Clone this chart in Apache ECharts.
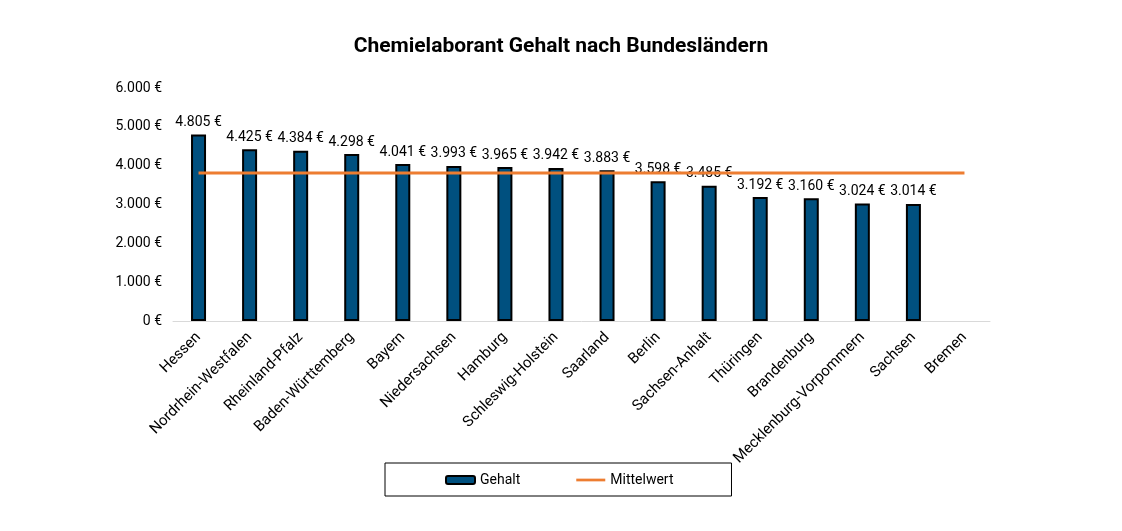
<!DOCTYPE html>
<html>
<head>
<meta charset="utf-8">
<script src="https://cdn.jsdelivr.net/npm/echarts@6/dist/echarts.min.js"></script>
<style>
html,body{margin:0;padding:0;background:#fff;}
#c{width:1122px;height:531px;}
</style>
</head>
<body>
<div id="c"></div>
<script>
const categories = ["Hessen","Nordrhein-Westfalen","Rheinland-Pfalz","Baden-Württemberg","Bayern","Niedersachsen","Hamburg","Schleswig-Holstein","Saarland","Berlin","Sachsen-Anhalt","Thüringen","Brandenburg","Mecklenburg-Vorpommern","Sachsen","Bremen"];
const gehalt = [4805,4425,4384,4298,4041,3993,3965,3942,3883,3598,3485,3192,3160,3024,3014,null];
const mittelwert = [3814,3814,3814,3814,3814,3814,3814,3814,3814,3814,3814,3814,3814,3814,3814,3814];
const yTicks = [0,1000,2000,3000,4000,5000,6000];

function fmt(v){
  return String(Math.round(v)).replace(/\B(?=(\d{3})+(?!\d))/g,'.') + ' €';
}

const chart = echarts.init(document.getElementById('c'), null, {renderer:'canvas'});
chart.setOption({
  animation:false,
  textStyle:{fontFamily:'Roboto'},
  title:{
    text:'Chemielaborant Gehalt nach Bundesländern',
    left:'center', top:31,
    textStyle:{fontFamily:'Roboto',fontSize:21,fontWeight:'bold',color:'#000'}
  },
  grid:{left:173,right:132,top:88,bottom:210,containLabel:false},
  legend:{
    data:[{name:'Gehalt'},{name:'Mittelwert',icon:'path://M0,0L32,0L32,3L0,3Z'}],
    left:385, top:463,
    padding:[10,58,9,60],
    itemGap:56,
    itemWidth:29, itemHeight:8,
    borderColor:'#000', borderWidth:1,
    textStyle:{fontFamily:'Roboto',fontSize:14,color:'#000'}
  },
  xAxis:{
    type:'category',
    data:categories,
    axisLine:{lineStyle:{color:'#d9d9d9',width:1}},
    axisTick:{show:false},
    axisLabel:{rotate:45,fontFamily:'Roboto',fontSize:15,color:'#000',interval:0,margin:14}
  },
  yAxis:{
    type:'value',
    min:0,max:6000,interval:1000,
    axisLine:{show:false},
    axisTick:{show:false},
    splitLine:{show:false},
    axisLabel:{fontFamily:'Roboto',fontSize:14,color:'#000',margin:11,formatter:fmt}
  },
  series:[
    {
      name:'Gehalt',
      type:'bar',
      data:gehalt,
      barWidth:15,
      itemStyle:{color:'#00507f',borderColor:'#000',borderWidth:2},
      label:{show:true,position:'top',distance:5,fontFamily:'Roboto',fontSize:14,color:'#000',formatter:p=>fmt(p.value)},
      z:2
    },
    {
      name:'Mittelwert',
      type:'line',
      data:mittelwert,
      symbol:'none',
      lineStyle:{color:'#ed7d31',width:3},
      itemStyle:{color:'#ed7d31'},
      z:3
    }
  ]
});
</script>
</body>
</html>
